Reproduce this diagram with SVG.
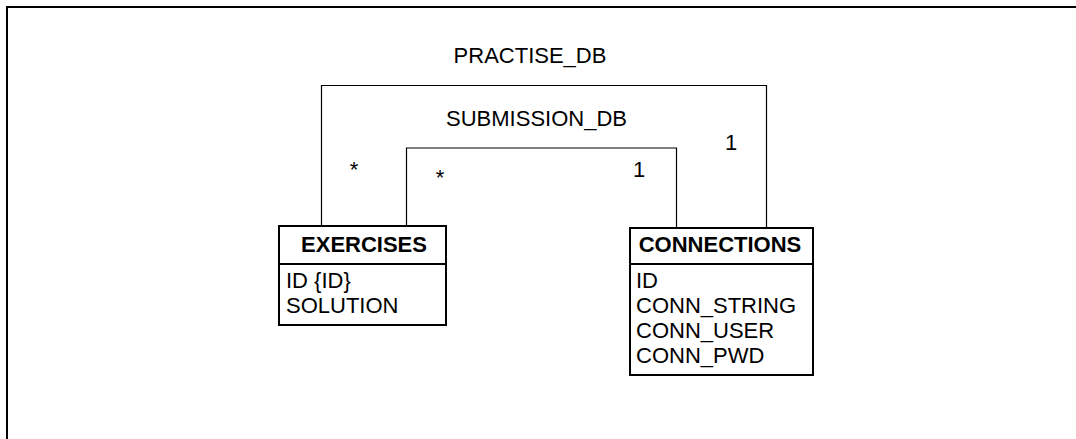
<svg xmlns="http://www.w3.org/2000/svg" width="1076" height="439" viewBox="0 0 1076 439">
  <style>
    .frame { fill: none; stroke: #000; stroke-width: 2; }
    .box { fill: #fff; stroke: #000; stroke-width: 2; }
    .conn { fill: none; stroke: #000; stroke-width: 1.2; }
    text { font-family: "Liberation Sans", Arial, sans-serif; font-size: 22px; fill: #000; }
    .title { font-weight: bold; text-anchor: middle; }
    .label { text-anchor: middle; }
  </style>
  <rect width="1076" height="439" fill="#fff"/>
  <path class="frame" d="M7,440 V7 H1077"/>

  <g id="connectors">
    <g id="practise_db">
      <path class="conn" d="M321.5,226 V85.5 H766.5 V228"/>
      <text class="label" x="530" y="63">PRACTISE_DB</text>
      <text class="label" x="354" y="177">*</text>
      <text class="label" x="731" y="150">1</text>
    </g>
    <g id="submission_db">
      <path class="conn" d="M406.5,226 V148 H676.5 V228"/>
      <text class="label" x="536.5" y="126">SUBMISSION_DB</text>
      <text class="label" x="440" y="185">*</text>
      <text class="label" x="639" y="176.5">1</text>
    </g>
  </g>

  <g id="exercises">
    <rect class="box" x="279" y="226" width="167" height="99"/>
    <line class="box" x1="279" y1="264" x2="446" y2="264"/>
    <text class="title" x="364" y="252">EXERCISES</text>
    <text x="286" y="288">ID {ID}</text>
    <text x="286" y="313">SOLUTION</text>
  </g>

  <g id="connections">
    <rect class="box" x="630" y="228" width="183" height="147"/>
    <line class="box" x1="630" y1="264" x2="813" y2="264"/>
    <text class="title" x="720" y="252">CONNECTIONS</text>
    <text x="636" y="288">ID</text>
    <text x="636" y="313">CONN_STRING</text>
    <text x="636" y="338">CONN_USER</text>
    <text x="636" y="363">CONN_PWD</text>
  </g>
</svg>
